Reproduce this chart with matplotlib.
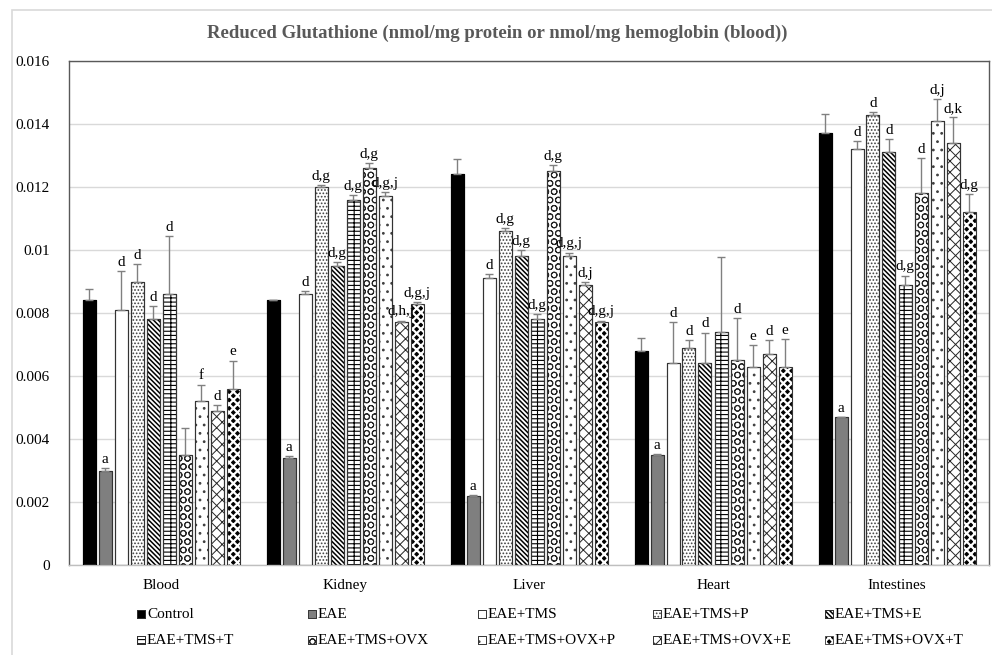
import numpy as np
import matplotlib
matplotlib.use("Agg")
import matplotlib.pyplot as plt
from matplotlib.patches import Rectangle

# Data
organs = ["Blood", "Kidney", "Liver", "Heart", "Intestines"]
groups = ["Control", "EAE", "EAE+TMS", "EAE+TMS+P", "EAE+TMS+E",
          "EAE+TMS+T", "EAE+TMS+OVX", "EAE+TMS+OVX+P", "EAE+TMS+OVX+E", "EAE+TMS+OVX+T"]

blood_mean = [0.0084, 0.0030, 0.0081, 0.0090, 0.0078, 0.0086, 0.0035, 0.0052, 0.0049, 0.0056]
kidney_mean = [0.0084, 0.0034, 0.0086, 0.0120, 0.0095, 0.0116, 0.0126, 0.0117, 0.0077, 0.0083]
liver_mean = [0.0124, 0.0022, 0.0091, 0.0106, 0.0098, 0.0078, 0.0125, 0.0098, 0.0089, 0.0077]
heart_mean = [0.0068, 0.0035, 0.0064, 0.0069, 0.0064, 0.0074, 0.0065, 0.0063, 0.0067, 0.0063]
intest_mean = [0.0137, 0.0047, 0.0132, 0.0143, 0.0131, 0.0089, 0.0118, 0.0141, 0.0134, 0.0112]

blood_err = [0.00035, 0.00009, 0.00123, 0.00056, 0.00041, 0.00183, 0.00086, 0.00053, 0.00019, 0.00089]
kidney_err = [0.00002, 0.00006, 0.00011, 0.00005, 0.00011, 0.00014, 0.00015, 0.00013, 0.00006, 0.00004]
liver_err = [0.00048, 0.00003, 0.00014, 0.00011, 0.00019, 0.00017, 0.00021, 0.00012, 0.00008, 0.00006]
heart_err = [0.00042, 0.00002, 0.00132, 0.00023, 0.00098, 0.00238, 0.00135, 0.00068, 0.00045, 0.00086]
intest_err = [0.00062, 0.00000, 0.00025, 0.00008, 0.00043, 0.00029, 0.00112, 0.00069, 0.00082, 0.00058]

blood_sig = ["", "a", "d", "d", "d", "d", "", "f", "d", "e"]
kidney_sig = ["", "a", "d", "d,g", "d,g", "d,g", "d,g", "d,g,j", "d,h,j", "d,g,j"]
liver_sig = ["", "a", "d", "d,g", "d,g", "d,g", "d,g", "d,g,j", "d,j", "d,g,j"]
heart_sig = ["", "a", "d", "d", "d", "", "d", "e", "d", "e"]
intest_sig = ["", "a", "d", "d", "d", "d,g", "d", "d,j", "d,k", "d,g"]

means = np.array([blood_mean, kidney_mean, liver_mean, heart_mean, intest_mean])
errs = np.array([blood_err, kidney_err, liver_err, heart_err, intest_err])
sigs = [blood_sig, kidney_sig, liver_sig, heart_sig, intest_sig]

# bar styles: facecolor, hatch, hatch colour, hatch linewidth
styles = [
    ("black", None, "black", 0.8),
    ("#7f7f7f", None, "#404040", 0.8),
    ("white", None, "#404040", 0.8),
    ("white", "." * 5, "#404040", 0.8),
    ("white", "\\" * 7, "black", 1.1),
    ("white", "-" * 4 + "|" * 2, "black", 0.8),
    ("white", "O" * 2, "#262626", 0.7),
    ("white", "." * 2, "#404040", 0.8),
    ("white", "x" * 3, "#262626", 0.7),
    ("black", "x" * 4, "white", 1.6),
]

plt.rcParams["font.family"] = ["Liberation Serif", "DejaVu Serif"]
plt.rcParams["hatch.linewidth"] = 0.8


def hatch_lw(patch, lw):
    try:
        patch.set_hatch_linewidth(lw)
    except AttributeError:
        pass


fig = plt.figure(figsize=(9.92, 6.55), dpi=100)
ax = fig.add_axes([69 / 992, 1 - 565 / 655, 920 / 992, 504 / 655])

# light outer chart border
fig.patches.append(Rectangle((12 / 992, -0.2), 1.2, 1.2 - 10 / 655,
                             transform=fig.transFigure, fill=False,
                             edgecolor="#d9d9d9", lw=1.2))

x = np.arange(len(organs))
slot = 16 / 184
width = 13 / 184

for i, g in enumerate(groups):
    face, hatch, hc, hlw = styles[i]
    xs = x + (i - 4.5) * slot
    bars = ax.bar(xs, means[:, i], width, color=face, hatch=hatch, edgecolor=hc,
                  linewidth=0.8, zorder=2)
    for b in bars:
        hatch_lw(b, hlw)
    # outline
    ax.bar(xs, means[:, i], width, fill=False, edgecolor="#333333" if i != 0 else "black",
           linewidth=0.8, zorder=3)
    ax.errorbar(xs, means[:, i], yerr=[np.zeros(len(organs)), errs[:, i]], fmt="none",
                ecolor="#808080", elinewidth=1, capsize=3, capthick=1, zorder=4)
    for k in range(len(organs)):
        s = sigs[k][i]
        if s:
            ax.annotate(s, (xs[k], means[k, i] + errs[k, i]), xytext=(0, 1.5),
                        textcoords="offset points", ha="center", va="bottom",
                        fontsize=11, color="black", zorder=5)

ax.set_xlim(-0.5, len(organs) - 0.5)
ax.set_ylim(0, 0.016)
yt = np.arange(0, 0.0161, 0.002)
ax.set_yticks(yt)
ax.set_yticklabels(["0", "0.002", "0.004", "0.006", "0.008", "0.01", "0.012", "0.014", "0.016"])
ax.set_xticks(x)
ax.set_xticklabels(organs)
ax.tick_params(axis="both", length=0, labelsize=11, colors="black")
ax.tick_params(axis="y", pad=14)
ax.tick_params(axis="x", pad=10)
ax.yaxis.grid(True, color="#d9d9d9", lw=1, zorder=0)
ax.set_axisbelow(True)
for side in ["left", "top", "right"]:
    ax.spines[side].set_color("#595959")
    ax.spines[side].set_linewidth(1)
ax.spines["bottom"].set_color("#bfbfbf")
ax.spines["bottom"].set_linewidth(1)

fig.text(497 / 992, 1 - 33 / 655,
         "Reduced Glutathione (nmol/mg protein or nmol/mg hemoglobin (blood))",
         ha="center", va="center", fontsize=13.5, fontweight="bold", color="#595959")

# legend: 2 rows x 5 columns
col_x = [137, 308, 478, 653, 825]
row_y = [614, 640]
for i, g in enumerate(groups):
    face, hatch, hc, hlw = styles[i]
    px = col_x[i % 5]
    py = row_y[i // 5]
    r = Rectangle((px / 992, 1 - (py + 4) / 655), 8 / 992, 8 / 655,
                  transform=fig.transFigure, facecolor=face, hatch=hatch,
                  edgecolor=hc, lw=0.6)
    hatch_lw(r, hlw)
    fig.patches.append(r)
    fig.patches.append(Rectangle((px / 992, 1 - (py + 4) / 655), 8 / 992, 8 / 655,
                                 transform=fig.transFigure, fill=False,
                                 edgecolor="#333333", lw=0.6))
    fig.text((px + 10) / 992, 1 - py / 655, g, ha="left", va="center", fontsize=11)

fig.savefig("out.png", dpi=100)
